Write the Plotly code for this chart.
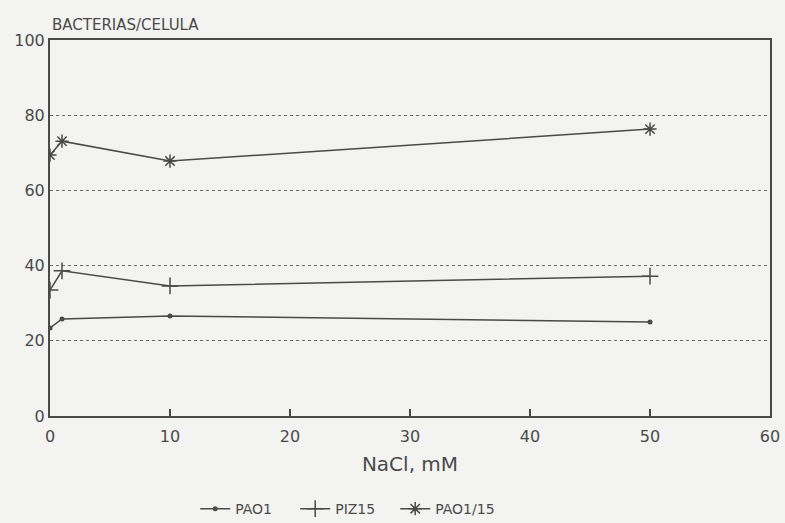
import plotly.graph_objects as go

nacl = [0, 1, 10, 50]
pao1 = [23.4, 25.8, 26.6, 25.0]
piz15 = [33.5, 38.6, 34.6, 37.2]
pao1_15 = [69.4, 73.1, 67.8, 76.3]

x_ticks = [0, 10, 20, 30, 40, 50, 60]
y_ticks = [0, 20, 40, 60, 80, 100]

ink = "#4a4a4a"
paper = "#f3f3f1"
font = "DejaVu Sans"

fig = go.Figure()
fig.add_trace(go.Scatter(x=nacl, y=pao1, name="PAO1", mode="lines+markers",
                         line=dict(color=ink, width=1.5),
                         marker=dict(symbol="circle", size=5, color=ink)))
fig.add_trace(go.Scatter(x=nacl, y=piz15, name="PIZ15", mode="lines+markers",
                         line=dict(color=ink, width=1.5),
                         marker=dict(symbol="cross-thin-open", size=12,
                                     line=dict(color=ink, width=1.5))))
fig.add_trace(go.Scatter(x=nacl, y=pao1_15, name="PAO1/15", mode="lines+markers",
                         line=dict(color=ink, width=1.5),
                         marker=dict(symbol="asterisk-open", size=11,
                                     line=dict(color=ink, width=1.5))))

fig.update_layout(
    width=785, height=523,
    paper_bgcolor=paper, plot_bgcolor=paper,
    margin=dict(l=50, r=15, t=40, b=107, autoexpand=False),
    font=dict(family=font, color=ink, size=15),
    showlegend=True,
    legend=dict(orientation="h", x=0.41, xanchor="center", y=-0.205, yanchor="top",
                font=dict(size=14, color=ink), bgcolor="rgba(0,0,0,0)",
                entrywidth=55, entrywidthmode="pixels"),
    annotations=[dict(text="BACTERIAS/CELULA", x=0, xref="paper", xanchor="left",
                      y=1, yref="paper", yanchor="bottom", yshift=4, showarrow=False,
                      font=dict(size=15, color=ink))],
)
fig.update_xaxes(range=[0, 60], tickvals=x_ticks, ticks="inside", ticklen=7,
                 tickcolor=ink, tickwidth=1.5, showgrid=False, zeroline=False,
                 showline=True, linecolor=ink, linewidth=2, mirror=True, automargin=False,
                 ticklabelstandoff=5,
                 tickfont=dict(size=16), title=dict(text="NaCl, mM", font=dict(size=20), standoff=12))
fig.update_yaxes(range=[0, 100], tickvals=y_ticks, ticks="", showgrid=True,
                 gridcolor="#6a6a6a", griddash="dot", gridwidth=1.2, zeroline=False,
                 showline=True, linecolor=ink, linewidth=2, mirror=True, automargin=False,
                 tickfont=dict(size=16))
fig.write_html("out.html", config={"displayModeBar": False})

with open("out.html", encoding="utf-8") as f:
    html = f.read()
html = html.replace("<body>", '<body style="margin:0;background:%s">' % paper, 1)
with open("out.html", "w", encoding="utf-8") as f:
    f.write(html)
